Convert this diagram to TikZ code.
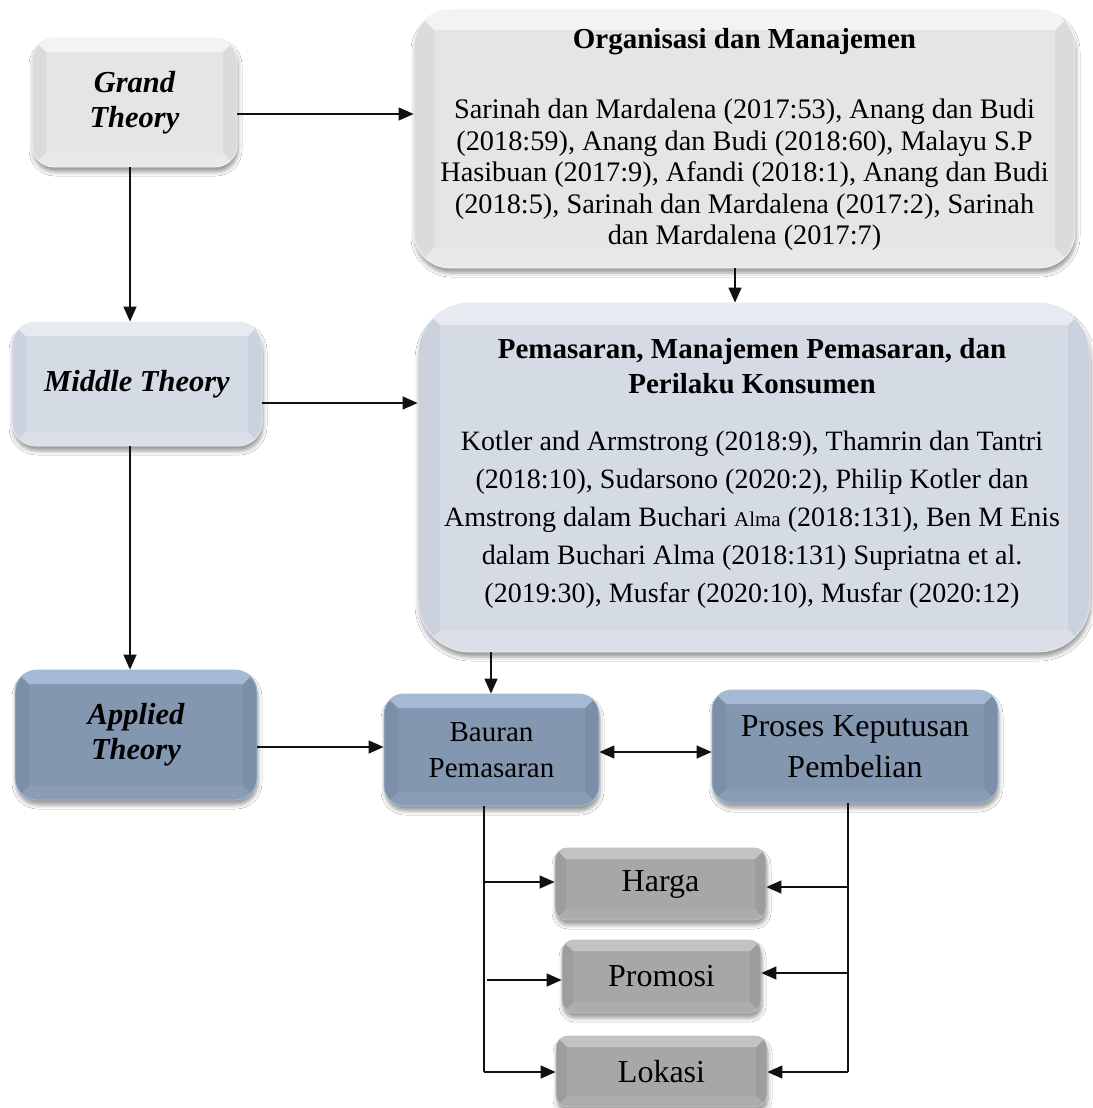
\documentclass[tikz,border=0pt]{standalone}
\usepackage{fontspec}
\setmainfont{Liberation Serif}
\usetikzlibrary{arrows.meta,shadows.blur}
\definecolor{gface}{HTML}{E5E5E5}
\definecolor{gside}{HTML}{DBDBDB}
\definecolor{gtop}{HTML}{F3F3F3}
\definecolor{gbot}{HTML}{E9E9E9}
\definecolor{lface}{HTML}{D5DBE4}
\definecolor{lside}{HTML}{CBD2DD}
\definecolor{ltop}{HTML}{E7EBF1}
\definecolor{lbot}{HTML}{DADFE8}
\definecolor{sface}{HTML}{8497B0}
\definecolor{sside}{HTML}{7C8FA9}
\definecolor{stop}{HTML}{A5B8D4}
\definecolor{sbot}{HTML}{8A9CB6}
\definecolor{dface}{HTML}{A8A6A6}
\definecolor{dside}{HTML}{9E9C9C}
\definecolor{dtop}{HTML}{C3C1C1}
\definecolor{dbot}{HTML}{AEACAC}
\definecolor{lnc}{HTML}{111111}
\newcommand\bvside{gside}
\newcommand\bvtop{gtop}
\newcommand\bvbot{gbot}
\newcommand\bvband{14pt}
\tikzset{
  bv side/.store in=\bvside,
  bv top/.store in=\bvtop,
  bv bot/.store in=\bvbot,
  bv band/.store in=\bvband,
  bevelbase/.style={rectangle, line width=0.8pt, inner sep=2pt, align=center,
    blur shadow={shadow xshift=1pt, shadow yshift=-5pt, shadow blur radius=4pt, shadow opacity=40},
    path picture={
      \fill[fill=\bvside, sharp corners] (path picture bounding box.north west) -- ++(\bvband,-\bvband)
        -- ([xshift=\bvband,yshift=\bvband]path picture bounding box.south west)
        -- (path picture bounding box.south west) -- cycle;
      \fill[fill=\bvside, sharp corners] (path picture bounding box.north east) -- ++(-\bvband,-\bvband)
        -- ([xshift=-\bvband,yshift=\bvband]path picture bounding box.south east)
        -- (path picture bounding box.south east) -- cycle;
      \fill[fill=\bvtop, sharp corners] (path picture bounding box.north west) -- (path picture bounding box.north east)
        -- ++(-\bvband,-\bvband) -- ([xshift=\bvband,yshift=-\bvband]path picture bounding box.north west) -- cycle;
      \fill[fill=\bvbot, sharp corners] (path picture bounding box.south west) -- (path picture bounding box.south east)
        -- ++(-\bvband,\bvband) -- ([xshift=\bvband,yshift=\bvband]path picture bounding box.south west) -- cycle;
    }},
  greybox/.style={bevelbase, fill=gface, draw=gtop, bv side=gside, bv top=gtop, bv bot=gbot},
  paleblue/.style={bevelbase, fill=lface, draw=ltop, bv side=lside, bv top=ltop, bv bot=lbot},
  steelbox/.style={bevelbase, fill=sface, draw=stop, bv side=sside, bv top=stop, bv bot=sbot},
  darkgrey/.style={bevelbase, fill=dface, draw=dtop, bv side=dside, bv top=dtop, bv bot=dbot},
  ital/.style={font=\fontsize{30.5}{35}\selectfont\bfseries\itshape},
  titletext/.style={align=center, font=\fontsize{29}{35}\selectfont\bfseries},
  ln/.style={draw=lnc, line width=1.3pt},
  arr/.style={ln, -{Triangle[length=15pt,width=13pt]}},
  arrtwo/.style={ln, {Triangle[length=15pt,width=13pt]}-{Triangle[length=15pt,width=13pt]}},
}
\begin{document}
\begin{tikzpicture}[x=1pt,y=-1pt]
\fill[white] (0,0) rectangle (1092,1108);
\useasboundingbox (0,0) rectangle (1092,1108);

% boxes
\node[greybox, rounded corners=22pt, minimum width=205pt, minimum height=129pt, ital] (grand) at (134.5,102.5) {Grand\\Theory};
\node[greybox, rounded corners=36pt, bv band=20pt, minimum width=661pt, minimum height=258pt] (org) at (744.5,139) {};
\node[paleblue, rounded corners=24pt, minimum width=250pt, minimum height=124pt, ital] (middle) at (137,384) {Middle Theory};
\node[paleblue, rounded corners=52pt, bv band=22pt, minimum width=672pt, minimum height=349pt] (pem) at (754,477.5) {};
\node[steelbox, rounded corners=22pt, minimum width=242pt, minimum height=130pt, ital] (applied) at (136,735) {Applied\\Theory};
\node[steelbox, rounded corners=20pt, minimum width=215pt, minimum height=112pt, font=\fontsize{29}{36}\selectfont] (bauran) at (491.5,750) {Bauran\\Pemasaran};
\node[steelbox, rounded corners=20pt, minimum width=286pt, minimum height=113pt, font=\fontsize{32}{41}\selectfont] (proses) at (855,746.5) {Proses Keputusan\\Pembelian};
\node[darkgrey, rounded corners=12pt, bv band=11pt, minimum width=211pt, minimum height=72pt, font=\fontsize{32}{36}\selectfont] (harga) at (660.5,884) {Harga};
\node[darkgrey, rounded corners=12pt, bv band=11pt, minimum width=199pt, minimum height=73pt, font=\fontsize{32}{36}\selectfont] (promosi) at (661.5,976.5) {Promosi};
\node[darkgrey, rounded corners=12pt, bv band=11pt, minimum width=211pt, minimum height=71pt, font=\fontsize{32}{36}\selectfont] (lokasi) at (661.5,1071.5) {Lokasi};

% texts in the large boxes
\node[titletext] (orgtitle) at (744.5,42) {Organisasi dan Manajemen};
\node[align=center, font=\fontsize{28.3}{31.5}\selectfont] (orgbody) at (744.5,175) {Sarinah dan Mardalena (2017:53), Anang dan Budi\\(2018:59), Anang dan Budi (2018:60), Malayu S.P\\Hasibuan (2017:9), Afandi (2018:1), Anang dan Budi\\(2018:5), Sarinah dan Mardalena (2017:2), Sarinah\\dan Mardalena (2017:7)};
\node[titletext] (pemtitle) at (752,366) {Pemasaran, Manajemen Pemasaran, dan\\Perilaku Konsumen};
\node[align=center, font=\fontsize{28}{38}\selectfont] (pembody) at (752,520) {Kotler and Armstrong (2018:9), Thamrin dan Tantri\\(2018:10), Sudarsono (2020:2), Philip Kotler dan\\Amstrong dalam Buchari {\fontsize{21}{21}\selectfont Alma} (2018:131), Ben M Enis\\dalam Buchari Alma (2018:131) Supriatna et al.\\(2019:30), Musfar (2020:10), Musfar (2020:12)};

% helper coordinates
\coordinate (hA) at (0,114);
\coordinate (hB) at (0,403);
\coordinate (hC) at (0,747);
\coordinate (hD) at (0,752);
\coordinate (vA) at (130,0);
\coordinate (vB) at (735,0);
\coordinate (vD) at (491,0);
\coordinate (vL) at (484,0);
\coordinate (vR) at (848,0);
\coordinate (lh) at (484,882);
\coordinate (lp) at (487,980);
\coordinate (ll) at (484,1072);
\coordinate (rh) at (848,887);
\coordinate (rp) at (848,973);
\coordinate (rl) at (848,1072);

% connectors
\draw[arr] (grand.east |- hA) -- (org.west |- hA);
\draw[arr] (vA |- grand.south) -- (vA |- middle.north);
\draw[arr] (vB |- org.south) -- (vB |- pem.north);
\draw[arr] (middle.east |- hB) -- (pem.west |- hB);
\draw[arr] (vA |- middle.south) -- (vA |- applied.north);
\draw[arr] (vD |- pem.south) -- (vD |- bauran.north);
\draw[arr] (applied.east |- hC) -- (bauran.west |- hC);
\draw[arrtwo] (bauran.east |- hD) -- (proses.west |- hD);
\draw[ln] (vL |- bauran.south) -- (ll);
\draw[arr] (lh) -- (harga.west |- lh);
\draw[arr] (lp) -- (promosi.west |- lp);
\draw[arr] (ll) -- (lokasi.west |- ll);
\draw[ln] (vR |- proses.south) -- (rl);
\draw[arr] (rh) -- (harga.east |- rh);
\draw[arr] (rp) -- (promosi.east |- rp);
\draw[arr] (rl) -- (lokasi.east |- rl);
\end{tikzpicture}
\end{document}
